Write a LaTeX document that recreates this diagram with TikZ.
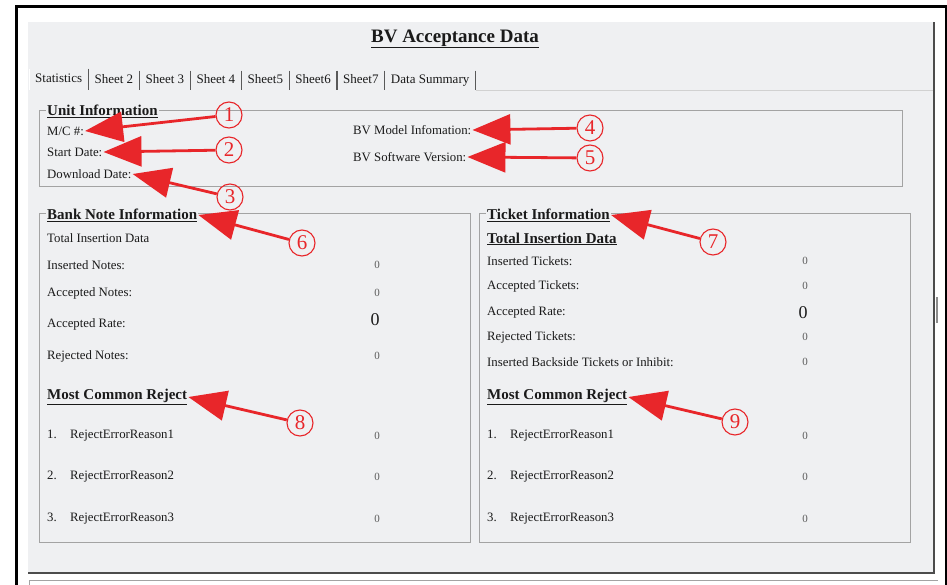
\documentclass[tikz,border=0pt]{standalone}
\usepackage{fontspec}
\setmainfont{Liberation Serif}
\usetikzlibrary{arrows.meta,positioning,calc}

\definecolor{panel}{HTML}{EFF0F2}
\definecolor{frame}{HTML}{A3A3A3}
\definecolor{ink}{HTML}{1A1A1A}
\definecolor{callred}{HTML}{E8262A}
\definecolor{zero}{HTML}{5A5A5A}

\begin{document}
\begin{tikzpicture}[
  x=1pt, y=-1pt,
  lbl/.style={anchor=west, inner sep=1pt, text=ink, font=\fontsize{12.8}{14}\selectfont},
  hdr/.style={anchor=west, inner sep=1pt, text=ink, font=\fontsize{15}{17}\selectfont\bfseries},
  legend/.style={hdr, fill=panel},
  val/.style={inner sep=1pt, text=zero, font=\fontsize{11}{12}\selectfont},
  bigval/.style={inner sep=1pt, text=ink, font=\fontsize{18}{19}\selectfont},
  fset/.style={draw=frame, line width=0.8pt},
  tab/.style={inner xsep=6pt, inner ysep=0pt, text height=9pt, text depth=3pt, minimum height=19pt, text=ink, font=\fontsize{13}{14}\selectfont},
  tabline/.style={draw=black!65, line width=1.1pt},
  num/.style={circle, draw=callred, line width=1.1pt, minimum size=26pt, inner sep=0pt, text=callred, font=\fontsize{21}{21}\selectfont},
  callout/.style={draw=callred, line width=2.8pt, -{Triangle[length=38pt 0 0,width=30pt 0 0]}}
]
\useasboundingbox (0,0) rectangle (947,585);

% Window frame and panel
\fill[panel] (28,22) rectangle (934,573);
\draw[black!70, line width=1.6pt] (28,573) -- (934,573) -- (934,22);
\draw[black!45, line width=1.4pt] (937,297) -- (937,323);
\draw[frame, line width=0.6pt] (29,585) -- (29,580) -- (938,580);
\draw[line width=3pt] (16,585) -- (16,7) -- (946,7) -- (946,585);

% Title
\node[font=\fontsize{19}{21}\selectfont\bfseries, text=ink] (TITLE) at (455,39) {\underline{BV Acceptance Data}};

% Tab strip
\node[tab, anchor=south west, minimum height=21pt] (STAT) at (29,90) {Statistics};
\node[tab, right=0pt of STAT.south east, anchor=south west] (SH2) {Sheet 2};
\node[tab, right=0pt of SH2.south east, anchor=south west] (SH3) {Sheet 3};
\node[tab, right=0pt of SH3.south east, anchor=south west] (SH4) {Sheet 4};
\node[tab, right=0pt of SH4.south east, anchor=south west] (SH5) {Sheet5};
\node[tab, right=0pt of SH5.south east, anchor=south west] (SH6) {Sheet6};
\node[tab, right=0pt of SH6.south east, anchor=south west] (SH7) {Sheet7};
\node[tab, right=0pt of SH7.south east, anchor=south west] (DSUM) {Data Summary};
\draw[white, line width=1pt] (STAT.south west) -- (STAT.north west);
\draw[tabline] (STAT.north east) -- (STAT.south east);
\draw[tabline] (SH2.north east) -- (SH2.south east);
\draw[tabline] (SH3.north east) -- (SH3.south east);
\draw[tabline] (SH4.north east) -- (SH4.south east);
\draw[tabline] (SH5.north east) -- (SH5.south east);
\draw[tabline] (SH6.north east) -- (SH6.south east);
\draw[tabline] (SH7.north east) -- (SH7.south east);
\draw[tabline] (DSUM.north east) -- (DSUM.south east);
\draw[frame!50, line width=0.8pt] (DSUM.south east) -- (933,90);

% Unit information
\draw[fset] (39,110) rectangle (902,186);
\node[legend] (UNIT) at (46,111) {\underline{Unit Information}};
\node[lbl] (MC) at (46,131) {M/C \#:};
\node[lbl, below=21pt of MC.west, anchor=west] (START) {Start Date:};
\node[lbl, below=22pt of START.west, anchor=west] (DL) {Download Date:};
\node[lbl] (MODEL) at (352,130) {BV Model Infomation:};
\node[lbl, below=27pt of MODEL.west, anchor=west] (SOFT) {BV Software Version:};

% Bank note information
\draw[fset] (39,213) rectangle (470,542);
\node[legend] (BANK) at (46,215) {\underline{Bank Note Information}};
\coordinate (BCOL) at (377,0);
\node[lbl] (BTOT) at (46,238) {Total Insertion Data};
\node[lbl] (BINS) at (46,265) {Inserted Notes:};
\node[lbl, below=28pt of BINS.west, anchor=west] (BACC) {Accepted Notes:};
\node[lbl, below=31pt of BACC.west, anchor=west] (BRATE) {Accepted Rate:};
\node[lbl, below=32pt of BRATE.west, anchor=west] (BREJ) {Rejected Notes:};
\node[val] (BINSV) at (BINS -| BCOL) {0};
\node[val] (BACCV) at (BACC -| BCOL) {0};
\node[bigval] (BRATEV) at ($(BRATE -| BCOL)+(-2,-4)$) {0};
\node[val] (BREJV) at (BREJ -| BCOL) {0};

\node[hdr] (BMCR) at (46,397) {\underline{Most Common Reject}};
\node[lbl] (BN1) at (46,434) {1.};
\node[lbl] (BR1) at (69,436) {RejectErrorReason1};
\node[lbl] (BN2) at (46,475) {2.};
\node[lbl] (BR2) at (69,477) {RejectErrorReason2};
\node[lbl] (BN3) at (46,517) {3.};
\node[lbl] (BR3) at (69,519) {RejectErrorReason3};
\node[val] (BR1V) at (BR1 -| BCOL) {0};
\node[val] (BR2V) at (BR2 -| BCOL) {0};
\node[val] (BR3V) at (BR3 -| BCOL) {0};

% Ticket information
\draw[fset] (479,213) rectangle (910,542);
\node[legend] (TICKET) at (486,215) {\underline{Ticket Information}};
\coordinate (TCOL) at (805,0);
\node[hdr] (TTOT) at (486,239) {\underline{Total Insertion Data}};
\node[lbl] (TINS) at (486,261) {Inserted Tickets:};
\node[lbl, below=25pt of TINS.west, anchor=west] (TACC) {Accepted Tickets:};
\node[lbl, below=26pt of TACC.west, anchor=west] (TRATE) {Accepted Rate:};
\node[lbl, below=25pt of TRATE.west, anchor=west] (TREJ) {Rejected Tickets:};
\node[lbl, below=25pt of TREJ.west, anchor=west] (TBACK) {Inserted Backside Tickets or Inhibit:};
\node[val] (TINSV) at (TINS -| TCOL) {0};
\node[val] (TACCV) at (TACC -| TCOL) {0};
\node[bigval] (TRATEV) at ($(TRATE -| TCOL)+(-2,1)$) {0};
\node[val] (TREJV) at (TREJ -| TCOL) {0};
\node[val] (TBACKV) at (TBACK -| TCOL) {0};

\node[hdr] (TMCR) at (486,397) {\underline{Most Common Reject}};
\node[lbl] (TN1) at (486,434) {1.};
\node[lbl] (TR1) at (509,436) {RejectErrorReason1};
\node[lbl] (TN2) at (486,475) {2.};
\node[lbl] (TR2) at (509,477) {RejectErrorReason2};
\node[lbl] (TN3) at (486,517) {3.};
\node[lbl] (TR3) at (509,519) {RejectErrorReason3};
\node[val] (TR1V) at (TR1 -| TCOL) {0};
\node[val] (TR2V) at (TR2 -| TCOL) {0};
\node[val] (TR3V) at (TR3 -| TCOL) {0};

% Numbered callouts
\node[num] (C1) at (229,115) {1};
\node[num] (C2) at (229,150) {2};
\node[num] (C3) at (230,197) {3};
\node[num] (C4) at (590,128) {4};
\node[num] (C5) at (590,158) {5};
\node[num] (C6) at (302,243) {6};
\node[num] (C7) at (713,242) {7};
\node[num] (C8) at (300,423) {8};
\node[num] (C9) at (735,422) {9};

\draw[callout] (C1) -- (MC.east);
\draw[callout] (C2) -- (START.east);
\draw[callout] (C3) -- (DL.east);
\draw[callout] (C4) -- (MODEL.east);
\draw[callout] (C5) -- (SOFT.east);
\draw[callout] (C6) -- (BANK.east);
\draw[callout] (C7) -- (TICKET.east);
\draw[callout] (C8) -- (BMCR.east);
\draw[callout] (C9) -- (TMCR.east);

\end{tikzpicture}
\end{document}
